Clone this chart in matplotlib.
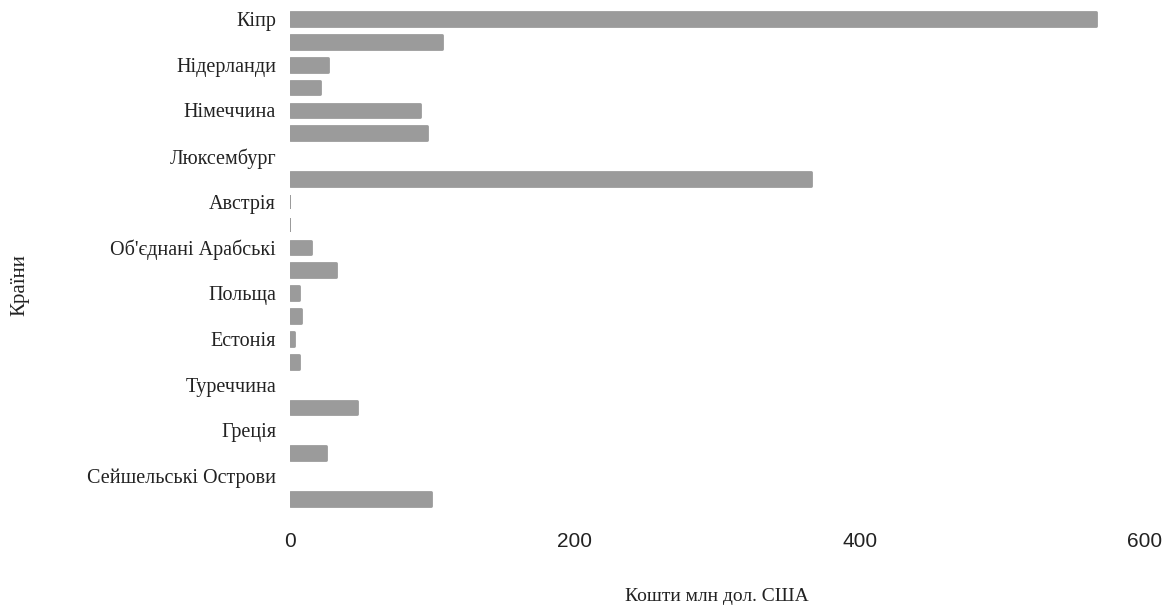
import matplotlib
matplotlib.use("Agg")
import matplotlib.pyplot as plt

# Країни та кошти (млн дол. США), по два значення на кожну країну
countries = [
    "Кіпр", "", "Нідерланди", "", "Німеччина", "", "Люксембург", "",
    "Австрія", "", "Об'єднані Арабські", "", "Польща", "", "Естонія", "",
    "Туреччина", "", "Греція", "", "Сейшельські Острови", "",
]
values = [
    566, 107, 27, 21, 91, 96, 0, 366,
    1, 1, 15, 32, 6, 8, 3, 6,
    0, 47, 0, 25, 0, 99,
]
x_ticks = [0, 200, 400, 600]

BAR_COLOR = "#9b9b9b"
TEXT_COLOR = "#222222"
SERIF = ["Liberation Serif", "DejaVu Serif"]
SANS = ["Liberation Sans", "DejaVu Sans"]


def main() -> None:
    fig = plt.figure(figsize=(11.74, 6.14), dpi=100)
    ax = fig.add_axes([0.247, 0.169, 0.728, 0.8186])

    positions = list(range(len(values)))
    # Обведення з круглим з'єднанням дає злегка заокруглені кути смуг;
    # для нульових значень обведення немає
    edge_widths = [2.0 if v > 1 else 0.0 for v in values]
    ax.barh(positions, values, height=0.6, color=BAR_COLOR,
            edgecolor=BAR_COLOR, linewidth=edge_widths, joinstyle="round")

    ax.set_ylim(len(values) - 0.5, -0.5)
    ax.set_xlim(0, 600)
    ax.set_yticks(positions[::2])
    ax.set_yticklabels(countries[::2], fontfamily=SERIF, fontsize=14.5,
                       color=TEXT_COLOR)
    ax.set_xticks(x_ticks)
    ax.set_xticklabels([str(t) for t in x_ticks], fontfamily=SANS,
                       fontsize=15, color=TEXT_COLOR)
    ax.tick_params(axis="both", length=0)
    ax.tick_params(axis="x", pad=16)
    ax.tick_params(axis="y", pad=10)
    for spine in ax.spines.values():
        spine.set_visible(False)

    ax.set_xlabel("Кошти млн дол. США", fontfamily=SERIF, fontsize=14,
                  color=TEXT_COLOR, labelpad=26)
    fig.text(0.017, 0.535, "Країни", rotation=90, ha="center", va="center",
             fontfamily=SERIF, fontsize=15, color=TEXT_COLOR)

    fig.savefig("out.png", dpi=100, facecolor="white")


if __name__ == "__main__":
    main()
